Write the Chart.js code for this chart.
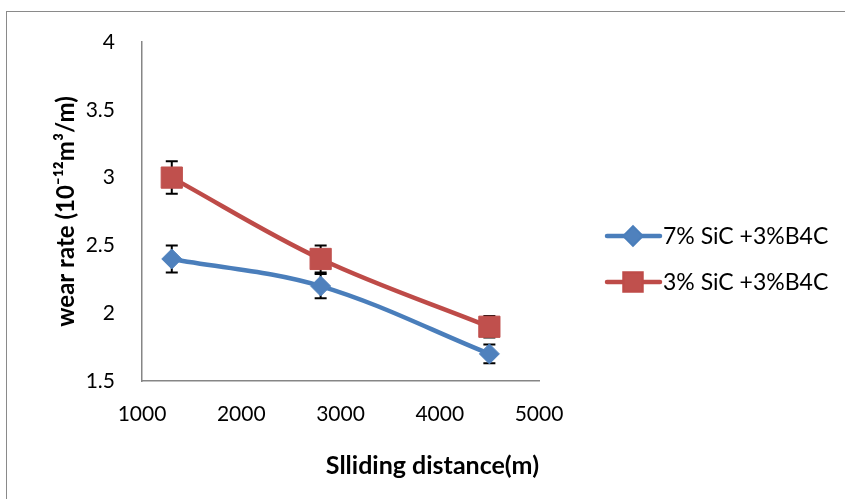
<!DOCTYPE html>
<html>
<head>
<meta charset="utf-8">
<script src="https://cdn.jsdelivr.net/npm/chart.js@4/dist/chart.umd.min.js"></script>
<style>
  body { margin: 0; background: #fff; }
  #frame { position: absolute; left: 6px; top: 11px; width: 900px; height: 600px;
           border-left: 1px solid #8a8a8a; border-top: 1px solid #8a8a8a; }
  #wrap { position: absolute; left: 0; top: 0; width: 845px; height: 499px; }
</style>
</head>
<body>
<div id="frame"></div>
<div id="wrap"><canvas id="myChart" width="845" height="499"></canvas></div>
<script>
var distances = [1300, 2800, 4500];
var sic7 = [2.4, 2.2, 1.7];
var sic7Err = [0.1, 0.09, 0.07];
var sic3 = [3.0, 2.4, 1.9];
var sic3Err = [0.12, 0.1, 0.08];
var seriesNames = ['7% SiC +3%B4C', '3% SiC +3%B4C'];
var xTicks = [1000, 2000, 3000, 4000, 5000];
var yTicks = [1.5, 2, 2.5, 3, 3.5, 4];

function toPoints(ys, errs) {
  return distances.map(function(x, i) {
    return { x: x, y: ys[i], err: errs[i] };
  });
}

// error bars, drawn under the lines/markers
var errorBars = {
  id: 'errorBars',
  beforeDatasetsDraw: function(chart) {
    var ctx = chart.ctx;
    var xs = chart.scales.x, ys = chart.scales.y;
    ctx.save();
    ctx.strokeStyle = '#000';
    ctx.lineWidth = 2;
    chart.data.datasets.forEach(function(ds) {
      ds.data.forEach(function(p) {
        var px = xs.getPixelForValue(p.x);
        var top = ys.getPixelForValue(p.y + p.err);
        var bot = ys.getPixelForValue(p.y - p.err);
        ctx.beginPath();
        ctx.moveTo(px, top); ctx.lineTo(px, bot);
        ctx.moveTo(px - 6, top); ctx.lineTo(px + 6, top);
        ctx.moveTo(px - 6, bot); ctx.lineTo(px + 6, bot);
        ctx.stroke();
      });
    });
    ctx.restore();
  }
};

// legend with line + marker sample like the original
var sideLegend = {
  id: 'sideLegend',
  afterDraw: function(chart) {
    var ctx = chart.ctx;
    var x0 = chart.chartArea.right + 68;
    var yStart = 236, gap = 46;
    ctx.save();
    chart.data.datasets.forEach(function(ds, i) {
      var y = yStart + i * gap;
      ctx.strokeStyle = ds.borderColor;
      ctx.lineWidth = 4.5;
      ctx.lineCap = 'round';
      ctx.beginPath();
      ctx.moveTo(x0, y); ctx.lineTo(x0 + 53, y);
      ctx.stroke();
      Chart.helpers.drawPoint(ctx, {
        pointStyle: ds.pointStyle,
        radius: ds.pointStyle === 'rect' ? 12 : 8,
        borderWidth: 1
      }, x0 + 26, y);
      ctx.fillStyle = ds.pointBackgroundColor;
      ctx.fill();
      ctx.fillStyle = '#000';
      ctx.font = '23px Lato';
      ctx.textBaseline = 'middle';
      ctx.fillText(ds.label, x0 + 56, y + 1);
    });
    ctx.restore();
  }
};

function plain(v) { return String(v); }

var ctx = document.getElementById('myChart').getContext('2d');
var myChart = new Chart(ctx, {
  type: 'scatter',
  data: {
    datasets: [{
      label: seriesNames[0],
      data: toPoints(sic7, sic7Err),
      showLine: true,
      tension: 0.35,
      borderColor: '#4A7EBB',
      borderWidth: 4.5,
      pointStyle: 'rectRot',
      pointRadius: 10,
      pointHoverRadius: 10,
      pointBackgroundColor: '#4F81BD',
      pointBorderColor: '#4F81BD',
      pointBorderWidth: 1
    }, {
      label: seriesNames[1],
      data: toPoints(sic3, sic3Err),
      showLine: true,
      tension: 0.35,
      borderColor: '#BE4B48',
      borderWidth: 4.5,
      pointStyle: 'rect',
      pointRadius: 15,
      pointHoverRadius: 15,
      pointBackgroundColor: '#C0504D',
      pointBorderColor: '#C0504D',
      pointBorderWidth: 1
    }]
  },
  options: {
    responsive: false,
    animation: false,
    layout: { padding: { left: 0, top: 42, right: 306, bottom: 0 } },
    plugins: {
      legend: { display: false },
      tooltip: { enabled: false }
    },
    scales: {
      x: {
        type: 'linear',
        min: xTicks[0],
        max: xTicks[xTicks.length - 1],
        afterBuildTicks: function(s) { s.ticks = xTicks.map(function(v) { return { value: v }; }); },
        afterFit: function(s) { s.height = 499 - 42 - 339; },
        grid: { display: false, drawTicks: false },
        border: { display: true, color: '#868686', width: 1.5 },
        ticks: { color: '#000', padding: 21, font: { family: 'Lato', size: 21 }, callback: plain },
        title: {
          display: true,
          align: 'end',
          text: 'Slliding distance(m)',
          color: '#000',
          font: { family: 'Lato', size: 25, weight: 'bold' },
          padding: { top: 0, bottom: 18 }
        }
      },
      y: {
        min: yTicks[0],
        max: yTicks[yTicks.length - 1],
        afterBuildTicks: function(s) { s.ticks = yTicks.map(function(v) { return { value: v }; }); },
        afterFit: function(s) { s.width = 142; },
        grid: { display: false, drawTicks: false },
        border: { display: true, color: '#868686', width: 1.5 },
        ticks: { color: '#000', padding: 27, font: { family: 'Lato', size: 21 }, callback: plain },
        title: {
          display: true,
          text: 'wear rate (10\u207B\u00B9\u00B2m\u00B3/m)',
          color: '#000',
          font: { family: 'Lato', size: 24, weight: 'bold' },
          padding: { top: 52, bottom: 0 }
        }
      }
    }
  },
  plugins: [errorBars, sideLegend]
});
</script>
</body>
</html>
